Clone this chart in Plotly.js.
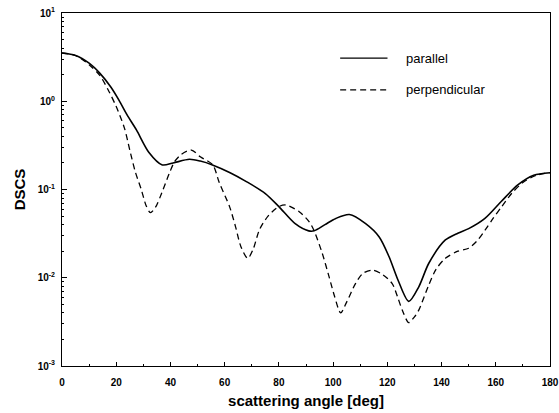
<!DOCTYPE html>
<html>
<head>
<meta charset="utf-8">
<script src="https://cdn.plot.ly/plotly-3.0.1.min.js"></script>
<style>html,body{margin:0;padding:0;background:#fff;}#chart{width:559px;height:413px;}</style>
</head>
<body>
<div id="chart"></div>
<script>
const parAngle = [0,5,10,14,18,21,24,27.5,32,37,41,47,51,55.5,62,68,75,80,86,91,93,97,101,106,112,117,120.6,124,127.9,131.6,135.3,141.4,146,150,156,162,168,174,180];
const parDSCS  = [3.52,3.3,2.7,2.07,1.45,1.03,0.7,0.47,0.265,0.19,0.20,0.22,0.21,0.19,0.155,0.123,0.09,0.064,0.041,0.034,0.034,0.040,0.047,0.052,0.041,0.029,0.0174,0.0093,0.0054,0.0079,0.0146,0.0268,0.032,0.036,0.047,0.073,0.112,0.145,0.155];

const perAngle = [0,5,10,14,17,20,23,25,27,29.3,31,32.6,34.5,37.2,39.5,41.5,44,47.7,51,55.6,58,61.8,64,66,68.5,70.5,72.8,76,80,82.6,87.5,91.2,93,96,98.5,100.5,102.8,105,108.3,111,114.4,118,121.8,124,125.5,127.9,130,131.6,135.3,138,141.4,146,150,153,156.1,159,162.2,165.9,170,175,180];
const perDSCS  = [3.52,3.3,2.6,1.95,1.35,0.87,0.5,0.28,0.16,0.0986,0.066,0.0546,0.063,0.0986,0.15,0.206,0.25,0.28,0.235,0.19,0.12,0.064,0.038,0.0225,0.0166,0.021,0.0348,0.05,0.064,0.0667,0.056,0.043,0.034,0.0189,0.0103,0.0062,0.004,0.0053,0.00865,0.0112,0.0122,0.011,0.0086,0.0058,0.0043,0.0031,0.0036,0.0043,0.0083,0.0125,0.0166,0.02,0.0216,0.026,0.0348,0.047,0.064,0.0906,0.12,0.145,0.155];

const seriesNames = ['parallel','perpendicular'];
const xTitle = 'scattering angle [deg]';
const yTitle = 'DSCS';
const yTickVals = [0.001, 0.01, 0.1, 1, 10];
const yTickText = ['10<sup>-3</sup>','10<sup>-2</sup>','10<sup>-1</sup>','10<sup>0</sup>','10<sup>1</sup>'];
const yMinorMantissas = [2, 3, 4, 5, 6, 7, 8, 9];

const yMinorVals = [];
yTickVals.slice(0, -1).forEach(d => yMinorMantissas.forEach(m => yMinorVals.push(d * m)));

const lineStyles = [
  {color: '#000', width: 1.6, dash: 'solid'},
  {color: '#000', width: 1.3, dash: '6px,4px'}
];

const traces = [
  {x: parAngle, y: parDSCS, name: seriesNames[0], mode: 'lines', showlegend: false,
   line: Object.assign({shape: 'spline', smoothing: 0.8}, lineStyles[0])},
  {x: perAngle, y: perDSCS, name: seriesNames[1], mode: 'lines', showlegend: false,
   line: Object.assign({shape: 'spline', smoothing: 0.8}, lineStyles[1])}
];

const fam = 'Liberation Sans, Arial, sans-serif';
const axFont = {family: fam, size: 10, color: '#000', weight: 'bold'};

// legend drawn as paper-space samples + labels (positions only, no data)
const legY = [0.872, 0.782];
const shapes = [], annotations = [];
seriesNames.forEach((nm, i) => {
  shapes.push({type: 'line', xref: 'paper', yref: 'paper', x0: 0.57, x1: 0.667, y0: legY[i], y1: legY[i],
               line: {color: lineStyles[i].color, width: 1.3, dash: lineStyles[i].dash}});
  annotations.push({xref: 'paper', yref: 'paper', x: 0.7, y: legY[i], xanchor: 'left', yanchor: 'middle',
                    text: nm, showarrow: false, font: {family: fam, size: 13, color: '#000'}});
});

const layout = {
  width: 559, height: 413,
  margin: {l: 62, r: 9, t: 13, b: 47},
  paper_bgcolor: '#fff', plot_bgcolor: '#fff',
  showlegend: false,
  shapes: shapes,
  annotations: annotations,
  xaxis: {
    range: [0, 180], dtick: 20, tick0: 0,
    showgrid: false, zeroline: false,
    showline: true, linecolor: '#000', linewidth: 1, mirror: true,
    ticks: 'inside', ticklen: 4, tickcolor: '#000',
    minor: {dtick: 10, ticks: 'inside', ticklen: 2, tickcolor: '#000', showgrid: false},
    tickfont: axFont, ticklabeloverflow: 'allow', ticklabelstandoff: 7,
    title: {text: xTitle, font: {family: fam, size: 15, color: '#000', weight: 'bold'}, standoff: 8}
  },
  yaxis: {
    type: 'log', range: [-3, 1],
    tickmode: 'array', tickvals: yTickVals, ticktext: yTickText,
    showgrid: false, zeroline: false,
    showline: true, linecolor: '#000', linewidth: 1, mirror: true,
    ticks: 'inside', ticklen: 5, tickcolor: '#000',
    minor: {tickmode: 'array', tickvals: yMinorVals, ticks: 'inside', ticklen: 2, tickcolor: '#000', showgrid: false},
    tickfont: axFont, ticklabelstandoff: 4,
    title: {text: yTitle, font: {family: fam, size: 15, color: '#000', weight: 'bold'}, standoff: 8}
  }
};

Plotly.newPlot('chart', traces, layout, {displayModeBar: false, staticPlot: true});
</script>
</body>
</html>
